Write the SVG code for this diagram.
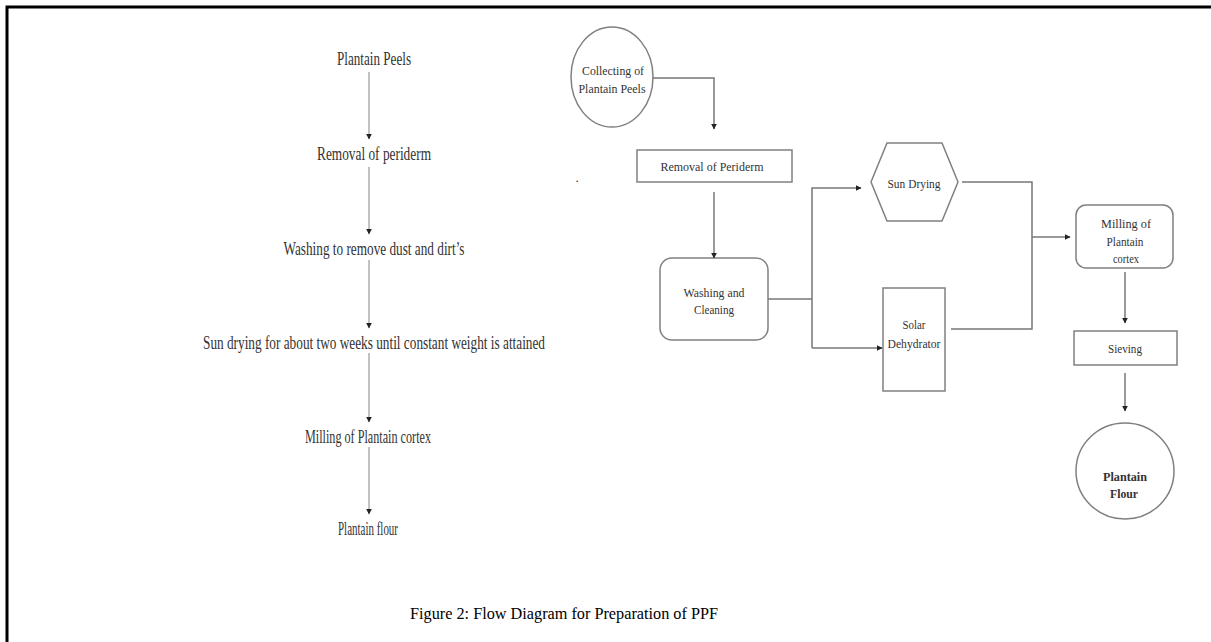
<svg xmlns="http://www.w3.org/2000/svg" width="1211" height="642" viewBox="0 0 1211 642">
<defs>
<marker id="ah" viewBox="0 0 10 10" refX="9" refY="5" markerWidth="6" markerHeight="6" markerUnits="userSpaceOnUse" orient="auto">
<path d="M0,0 L10,5 L0,10 Z" fill="#222"/>
</marker>
</defs>
<style>
.lt{font-family:"Liberation Serif",serif;font-size:18px;fill:#333;text-anchor:middle;dominant-baseline:central}
.rt{font-family:"Liberation Serif",serif;font-size:13px;fill:#333;text-anchor:middle;dominant-baseline:central}
.bt{font-family:"Liberation Serif",serif;font-size:13px;font-weight:bold;fill:#333;text-anchor:middle;dominant-baseline:central}
.cap{font-family:"Liberation Serif",serif;font-size:16px;fill:#000;text-anchor:middle;dominant-baseline:central}
.shape{fill:#fff;stroke:#808080;stroke-width:1.5}
.la{stroke:#999;stroke-width:1.2;fill:none;marker-end:url(#ah)}
.ra{stroke:#777;stroke-width:1.5;fill:none}
.rah{stroke:#777;stroke-width:1.5;fill:none;marker-end:url(#ah)}
</style>
<rect width="1211" height="642" fill="#fff"/>
<path d="M7,642 L7,7 L1211,7" fill="none" stroke="#000" stroke-width="3"/>

<g id="left-nodes">
<g id="l1"><text class="lt" x="374" y="59" textLength="74" lengthAdjust="spacingAndGlyphs">Plantain Peels</text></g>
<g id="l2"><text class="lt" x="374" y="154" textLength="114" lengthAdjust="spacingAndGlyphs">Removal of periderm</text></g>
<g id="l3"><text class="lt" x="374" y="249" textLength="181" lengthAdjust="spacingAndGlyphs">Washing to remove dust and dirt’s</text></g>
<g id="l4"><text class="lt" x="374" y="343" textLength="342" lengthAdjust="spacingAndGlyphs">Sun drying for about two weeks until constant weight is attained</text></g>
<g id="l5"><text class="lt" x="368" y="437" textLength="126" lengthAdjust="spacingAndGlyphs">Milling of Plantain cortex</text></g>
<g id="l6"><text class="lt" x="368" y="529" textLength="60" lengthAdjust="spacingAndGlyphs">Plantain flour</text></g>
</g>

<g id="n-collect"><ellipse class="shape" cx="612" cy="77" rx="41" ry="50"/>
<text class="rt" x="613" y="70" textLength="62" lengthAdjust="spacingAndGlyphs">Collecting of</text>
<text class="rt" x="612" y="88" textLength="67" lengthAdjust="spacingAndGlyphs">Plantain Peels</text></g>
<g id="n-removal"><rect class="shape" x="637" y="150" width="155" height="32"/>
<text class="rt" x="712" y="166" textLength="103" lengthAdjust="spacingAndGlyphs">Removal of Periderm</text></g>
<g id="n-wash"><rect class="shape" x="660" y="258" width="108" height="82" rx="12"/>
<text class="rt" x="714" y="292" textLength="61" lengthAdjust="spacingAndGlyphs">Washing and</text>
<text class="rt" x="714" y="309" textLength="40" lengthAdjust="spacingAndGlyphs">Cleaning</text></g>
<g id="n-sun"><polygon class="shape" points="871,182 887,143 942,143 958,182 942,221 887,221"/>
<text class="rt" x="914" y="183" textLength="53" lengthAdjust="spacingAndGlyphs">Sun Drying</text></g>
<g id="n-solar"><rect class="shape" x="883" y="288" width="62" height="103"/>
<text class="rt" x="914" y="324" textLength="23" lengthAdjust="spacingAndGlyphs">Solar</text>
<text class="rt" x="914" y="343" textLength="53" lengthAdjust="spacingAndGlyphs">Dehydrator</text></g>
<g id="n-mill"><rect class="shape" x="1076" y="205" width="97" height="63" rx="10"/>
<text class="rt" x="1126" y="223" textLength="50" lengthAdjust="spacingAndGlyphs">Milling of</text>
<text class="rt" x="1125" y="241" textLength="37" lengthAdjust="spacingAndGlyphs">Plantain</text>
<text class="rt" x="1126" y="258" textLength="26" lengthAdjust="spacingAndGlyphs">cortex</text></g>
<g id="n-sieve"><rect class="shape" x="1074" y="331" width="103" height="34"/>
<text class="rt" x="1125" y="348" textLength="34" lengthAdjust="spacingAndGlyphs">Sieving</text></g>
<g id="n-flour"><ellipse class="shape" cx="1125" cy="471" rx="49" ry="48"/>
<text class="bt" x="1125" y="476" textLength="44" lengthAdjust="spacingAndGlyphs">Plantain</text>
<text class="bt" x="1124" y="493" textLength="28" lengthAdjust="spacingAndGlyphs">Flour</text></g>

<g id="connectors">
<line class="la" x1="369" y1="72" x2="369" y2="139"/>
<line class="la" x1="369" y1="167" x2="369" y2="234"/>
<line class="la" x1="369" y1="260" x2="369" y2="328"/>
<line class="la" x1="369" y1="353" x2="369" y2="422"/>
<line class="la" x1="369" y1="447" x2="369" y2="514"/>

<path class="rah" d="M653,78 L714,78 L714,129"/>
<path class="rah" d="M714,192 L714,258"/>
<path class="ra" d="M768,299 L812,299"/>
<path class="rah" d="M812,348 L812,188 L861,188"/>
<path class="rah" d="M812,348 L882,348"/>
<path class="ra" d="M962,182 L1032,182 L1032,329 L951,329"/>
<path class="rah" d="M1032,237 L1070,237"/>
<path class="rah" d="M1125,272 L1125,323"/>
<path class="rah" d="M1125,373 L1125,411"/>
</g>

<text class="rt" x="577" y="177" fill="#999">.</text>
<text class="cap" x="564" y="613" textLength="308" lengthAdjust="spacingAndGlyphs">Figure 2: Flow Diagram for Preparation of PPF</text>
</svg>
